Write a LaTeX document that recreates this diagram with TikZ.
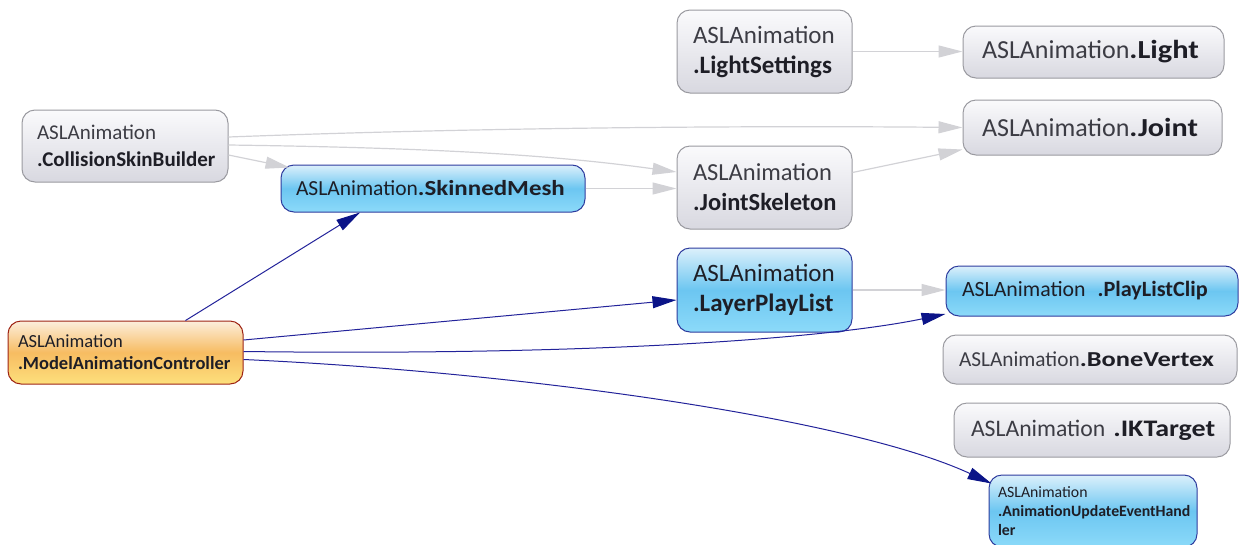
\documentclass[tikz,border=0pt]{standalone}
\usepackage{fontspec}
\setmainfont{Carlito}
\usetikzlibrary{arrows.meta}

\definecolor{grayedge}{HTML}{D2D2D6}
\definecolor{navyedge}{HTML}{23239A}
\definecolor{navytip}{HTML}{0B1488}
\definecolor{graytxt}{HTML}{3C3C44}
\definecolor{darktxt}{HTML}{1E1E26}
\definecolor{graytop}{HTML}{FAFAFC}
\definecolor{graybot}{HTML}{D8D8E0}
\definecolor{grayline}{HTML}{9A9AA0}
\definecolor{bluetop}{HTML}{DCF0FB}
\definecolor{bluemid}{HTML}{6CC6F1}
\definecolor{bluebot}{HTML}{8CDAF9}
\definecolor{blueline}{HTML}{2E3C9E}
\definecolor{orangetop}{HTML}{FCEEDC}
\definecolor{orangemid}{HTML}{F7BC62}
\definecolor{orangebot}{HTML}{FDE07C}
\definecolor{orangeline}{HTML}{9E2414}

\tikzset{
  classbox/.style={rounded corners=13pt, line width=1pt, inner xsep=0pt, inner ysep=0pt,
    align=left, font=\fontsize{25}{30}\selectfont, text=graytxt},
  graybox/.style={classbox, draw=grayline, top color=graytop, bottom color=graybot},
  bluebox/.style={classbox, draw=blueline, top color=bluetop, bottom color=bluebot,
    middle color=bluemid, text=darktxt},
  orangebox/.style={classbox, draw=orangeline, top color=orangetop, bottom color=orangebot,
    middle color=orangemid, text=darktxt},
  grayarrow/.style={draw=grayedge, line width=1.2pt,
    -{Triangle[length=24pt,width=12pt,fill=grayedge,color=grayedge]}},
  bluearrow/.style={draw=navyedge, line width=1pt,
    -{Triangle[length=24pt,width=12pt,fill=navytip,color=navytip]}},
}

% bold class-name part; the optional argument widens it
\newcommand{\hd}[2][1]{\scalebox{#1}[1]{\textbf{\color{darktxt}#2}}}

\begin{document}
\begin{tikzpicture}[x=1pt, y={(0pt,-1pt)}]
  \useasboundingbox (0,0) rectangle (1239,544);

  % class boxes
  \node[graybox, minimum width=175pt, minimum height=83pt, text width=143pt]
    (ls) at (764.5,51.5) {ASLAnimation\\\hd{.LightSettings}};
  \node[graybox, minimum width=261pt, minimum height=52pt, text width=223pt, font=\fontsize{26}{30}\selectfont]
    (light) at (1093.5,52) {ASLAnimation\hd[1.17]{.Light}};
  \node[graybox, minimum width=206pt, minimum height=72pt, text width=176pt, font=\fontsize{21}{27}\selectfont]
    (csb) at (125,146) {ASLAnimation\\\hd{.CollisionSkinBuilder}};
  \node[graybox, minimum width=259pt, minimum height=55pt, text width=221pt, font=\fontsize{26}{30}\selectfont]
    (joint) at (1092.5,127.5) {ASLAnimation\hd[1.16]{.Joint}};
  \node[bluebox, minimum width=304pt, minimum height=47pt, text width=274pt, font=\fontsize{21.5}{26}\selectfont]
    (sm) at (433,188.5) {ASLAnimation\hd[1.16]{.SkinnedMesh}};
  \node[graybox, minimum width=175pt, minimum height=83pt, text width=143pt, font=\fontsize{24.5}{30}\selectfont]
    (js) at (764.5,187.5) {ASLAnimation\\\hd{.JointSkeleton}};
  \node[bluebox, minimum width=175pt, minimum height=84pt, text width=143pt]
    (lpl) at (764.5,290) {ASLAnimation\\\hd{.LayerPlayList}};
  \node[bluebox, minimum width=292pt, minimum height=50pt, text width=260pt, font=\fontsize{21.8}{26}\selectfont]
    (plc) at (1092,291) {ASLAnimation\hspace{12pt}\hd[1.02]{.PlayListClip}};
  \node[graybox, minimum width=294pt, minimum height=49pt, text width=262pt, font=\fontsize{21.3}{26}\selectfont]
    (bv) at (1090,359.5) {ASLAnimation\hd[1.24]{.BoneVertex}};
  \node[graybox, minimum width=276pt, minimum height=54pt, text width=242pt, font=\fontsize{23.7}{28}\selectfont]
    (ik) at (1092,430) {\mbox{ASLAnimation \hd[1.18]{.IKTarget}}};
  \node[orangebox, minimum width=235pt, minimum height=63pt, text width=215pt, font=\fontsize{18.5}{22}\selectfont]
    (mac) at (125.5,352.5) {ASLAnimation\\\hd{.ModelAnimationController}};
  \node[bluebox, minimum width=208pt, minimum height=72pt, text width=190pt, font=\fontsize{15.8}{19}\selectfont]
    (aueh) at (1093,511) {ASLAnimation\\\hd{.AnimationUpdateEventHand}\\\hd{ler}};

  % dependencies between the unselected classes
  \draw[grayarrow] (ls.east) -- (ls.east -| light.west);
  \draw[grayarrow] ([yshift=9pt]csb.east) .. controls (520,126) and (800,126) .. (joint.west);
  \draw[grayarrow] ([yshift=-9pt]csb.east) -- ([xshift=9pt,yshift=-3pt]sm.north west);
  \draw[grayarrow] ([yshift=1pt]csb.east) .. controls (450,148) and (560,156) .. ([yshift=15.5pt]js.west);
  \draw[grayarrow] (sm.east) -- (sm.east -| js.west);
  \draw[grayarrow] ([yshift=15pt]js.east) -- ([yshift=-22pt]joint.west);
  \draw[grayarrow] (lpl.east) -- (lpl.east -| plc.west);

  % dependencies of the controller
  \draw[bluearrow] ([xshift=60pt]mac.north) -- ([xshift=-73pt]sm.south);
  \draw[bluearrow] ([yshift=12.5pt]mac.east) -- ([yshift=-10pt]lpl.west);
  \draw[bluearrow] ([yshift=1pt]mac.east) .. controls (600,356) and (830,338) .. ([yshift=-23pt]plc.west);
  \draw[bluearrow] ([yshift=-7pt]mac.east) .. controls (520,372) and (850,418) .. ([xshift=3pt,yshift=-9pt]aueh.north west);
\end{tikzpicture}
\end{document}
